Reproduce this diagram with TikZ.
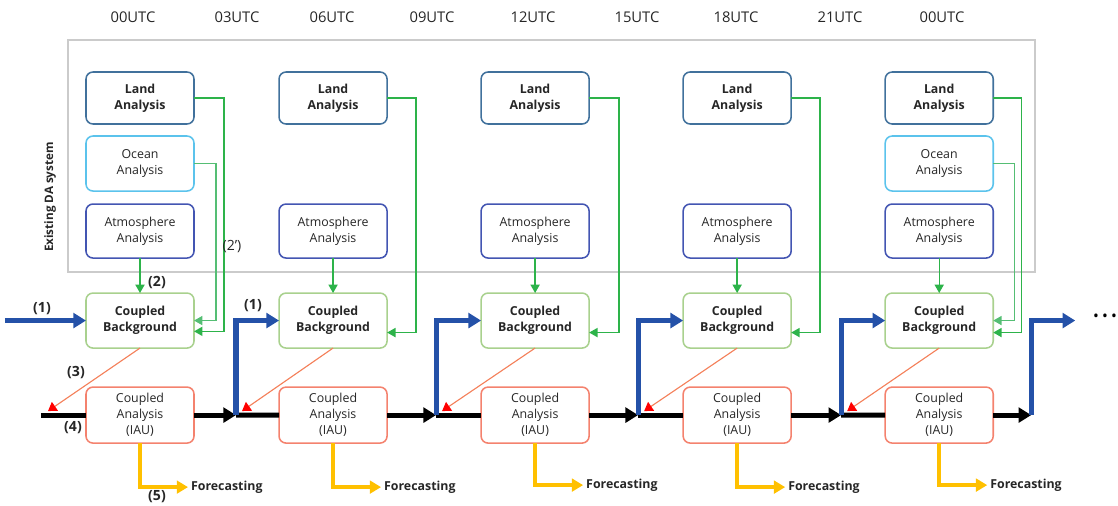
\documentclass[tikz,border=0pt]{standalone}
\usepackage{fontspec}
\setmainfont{Open Sans}
\usepackage{xcolor}
\usepackage{tikz}
\usetikzlibrary{positioning, arrows.meta, calc}
\definecolor{landblue}{HTML}{41719C}
\definecolor{oceanblue}{HTML}{5BC3EC}
\definecolor{atmblue}{HTML}{4355B2}
\definecolor{bggreen}{HTML}{A9D18E}
\definecolor{anasalmon}{HTML}{F4826E}
\definecolor{dagreen}{HTML}{2DB34A}
\definecolor{oceangreen}{HTML}{55BE74}
\definecolor{cycleblue}{HTML}{2451A8}
\definecolor{bgorange}{HTML}{F4805A}
\definecolor{fcyellow}{HTML}{FFC000}
\definecolor{dagray}{HTML}{CBCBCB}

\begin{document}
\begin{tikzpicture}[
  x=0.025cm, y=-0.025cm,
  node distance=0.3cm,
  box/.style={
    rectangle, rounded corners=5pt, line width=1.1pt, outer sep=0pt,
    minimum width=2.7cm, inner sep=1pt, align=center,
    font=\fontsize{8.8}{11.5}\selectfont, text=black!85
  },
  land/.style={box, draw=landblue, minimum height=1.3cm,
    font=\fontsize{8.8}{11.5}\selectfont\bfseries},
  ocean/.style={box, draw=oceanblue, minimum height=1.375cm},
  atmos/.style={box, draw=atmblue, minimum height=1.35cm},
  cbg/.style={box, draw=bggreen, minimum height=1.375cm,
    font=\fontsize{8.8}{11.5}\selectfont\bfseries},
  cana/.style={box, draw=anasalmon, minimum height=1.4cm},
  dabox/.style={rectangle, draw=dagray, line width=1.2pt,
    minimum width=24.175cm, minimum height=5.8cm},
  utc/.style={font=\fontsize{10.5}{12}\selectfont, text=black!85},
  lbl/.style={font=\fontsize{10}{12}\selectfont\bfseries, text=black!85},
  fcst/.style={anchor=west, inner sep=2pt,
    font=\fontsize{8.8}{11}\selectfont\bfseries, text=black!85},
  garr/.style={draw=dagreen, line width=1pt, -{Triangle[length=6pt,width=6.5pt]}},
  oarr/.style={draw=oceangreen, line width=1pt, -{Triangle[length=6pt,width=6.5pt]}},
  barr/.style={draw=cycleblue, line width=3.6pt, -{Triangle[length=9pt,width=10.5pt]}},
  kline/.style={draw=black, line width=3.6pt},
  karr/.style={kline, -{Triangle[length=9pt,width=10.5pt]}},
  rarr/.style={draw=bgorange, line width=0.8pt, -{Triangle[length=6pt,width=7.5pt,red]}},
  yarr/.style={draw=fcyellow, line width=2.8pt, -{Triangle[length=8pt,width=9pt]}},
]
\path[use as bounding box] (0,0) rectangle (1118,506);

% time axis
\node[utc] (t00) at (133,17) {00UTC};
\node[utc] (t03) at (237,17) {03UTC};
\node[utc] (t06) at (332,17) {06UTC};
\node[utc] (t09) at (432,17) {09UTC};
\node[utc] (t12) at (533,17) {12UTC};
\node[utc] (t15) at (637,17) {15UTC};
\node[utc] (t18) at (736,17) {18UTC};
\node[utc] (t21) at (840,17) {21UTC};
\node[utc] (t24) at (942,17) {00UTC};

% existing DA system
\node[dabox] (da) at (551.5,156) {};
\node[utc, rotate=90, font=\fontsize{8.3}{10}\selectfont\bfseries] (dalab) at (50,197) {Existing DA system};

% column 1
\node[land] (land1) at (140,98) {Land\\Analysis};
\node[ocean, below=0.3cm of land1] (ocean1) {Ocean\\Analysis};
\node[atmos, below=0.325cm of ocean1] (atm1) {Atmosphere\\Analysis};
\node[cbg, below=0.875cm of atm1] (cbg1) {Coupled\\Background};
\node[cana, below=0.975cm of cbg1] (cana1) {Coupled\\Analysis\\(IAU)};

% column 2
\node[land, right=2.125cm of land1] (land2) {Land\\Analysis};
\node[atmos, below=2cm of land2] (atm2) {Atmosphere\\Analysis};
\node[cbg, below=0.875cm of atm2] (cbg2) {Coupled\\Background};
\node[cana, below=0.975cm of cbg2] (cana2) {Coupled\\Analysis\\(IAU)};

% column 3
\node[land, right=2.35cm of land2] (land3) {Land\\Analysis};
\node[atmos, below=2cm of land3] (atm3) {Atmosphere\\Analysis};
\node[cbg, below=0.875cm of atm3] (cbg3) {Coupled\\Background};
\node[cana, below=0.975cm of cbg3] (cana3) {Coupled\\Analysis\\(IAU)};

% column 4
\node[land, right=2.35cm of land3] (land4) {Land\\Analysis};
\node[atmos, below=2cm of land4] (atm4) {Atmosphere\\Analysis};
\node[cbg, below=0.875cm of atm4] (cbg4) {Coupled\\Background};
\node[cana, below=0.975cm of cbg4] (cana4) {Coupled\\Analysis\\(IAU)};

% column 5
\node[land, right=2.35cm of land4] (land5) {Land\\Analysis};
\node[ocean, below=0.3cm of land5] (ocean5) {Ocean\\Analysis};
\node[atmos, below=0.325cm of ocean5] (atm5) {Atmosphere\\Analysis};
\node[cbg, below=0.875cm of atm5] (cbg5) {Coupled\\Background};
\node[cana, below=0.975cm of cbg5] (cana5) {Coupled\\Analysis\\(IAU)};

% forecasts
\node[fcst] (fc1) at ([xshift=1.2cm, yshift=-1.1cm]cana1.south) {Forecasting};
\node[fcst] (fc2) at ([xshift=1.2cm, yshift=-1.1cm]cana2.south) {Forecasting};
\node[fcst] (fc3) at ([xshift=1.2cm, yshift=-1.05cm]cana3.south) {Forecasting};
\node[fcst] (fc4) at ([xshift=1.2cm, yshift=-1.1cm]cana4.south) {Forecasting};
\node[fcst] (fc5) at ([xshift=1.2cm, yshift=-1.05cm]cana5.south) {Forecasting};

% cycle points
\coordinate[left=2.025cm of cbg1.west] (in1);
\coordinate[left=1.125cm of cana1.west] (lstart);
\coordinate[right=1.05cm of cana1.east] (j2);
\coordinate[right=1.225cm of cana2.east] (j3);
\coordinate[right=1.225cm of cana3.east] (j4);
\coordinate[right=1.25cm of cana4.east] (j5);
\coordinate[right=0.95cm of cana5.east] (j6);
\coordinate (out) at ($(j6 |- cbg5.west)+(1.1cm,0)$);
\node[inner sep=0pt, font=\fontsize{11}{11}\selectfont] (more) at (1105,318) {•\kern2.2pt•\kern2.2pt•};

% analysis -> background (green)
\draw[garr] (land1.east) -- ++(30,0) |- ([yshift=-0.27cm]cbg1.east);
\draw[oarr] (ocean1.east) -- ++(22,0) |- (cbg1.east);
\draw[garr] (atm1) -- (cbg1);
\draw[garr] (land2.east) -- ++(29,0) |- ([yshift=-0.3cm]cbg2.east);
\draw[garr] (atm2) -- (cbg2);
\draw[garr] (land3.east) -- ++(30,0) |- ([yshift=-0.3cm]cbg3.east);
\draw[garr] (atm3) -- (cbg3);
\draw[garr] (land4.east) -- ++(29,0) |- ([yshift=-0.3cm]cbg4.east);
\draw[garr] (atm4) -- (cbg4);
\draw[garr] (land5.east) -- ++(28,0) |- ([yshift=-0.3cm]cbg5.east);
\draw[oarr] (ocean5.east) -- ++(21,0) |- (cbg5.east);
\draw[garr] (atm5) -- (cbg5);

% model run (black)
\draw[kline] (lstart) -- (cana1.west);
\draw[karr] (cana1.east) -- (j2);
\draw[kline] (j2) -- (cana2.west);
\draw[karr] (cana2.east) -- (j3);
\draw[kline] (j3) -- (cana3.west);
\draw[karr] (cana3.east) -- (j4);
\draw[kline] (j4) -- (cana4.west);
\draw[karr] (cana4.east) -- (j5);
\draw[kline] (j5) -- (cana5.west);
\draw[karr] (cana5.east) -- (j6);

% first guess (blue)
\draw[barr] (in1) -- (cbg1.west);
\draw[barr] (j2) |- (cbg2.west);
\draw[barr] (j3) |- (cbg3.west);
\draw[barr] (j4) |- (cbg4.west);
\draw[barr] (j5) |- (cbg5.west);
\draw[barr] (j6) |- (out);

% background -> start of window (red)
\draw[rarr] (cbg1.south) -- ([xshift=0.175cm, yshift=0.1cm]lstart);
\draw[rarr] (cbg2.south) -- ([xshift=0.15cm, yshift=0.1cm]j2);
\draw[rarr] (cbg3.south) -- ([xshift=0.15cm, yshift=0.1cm]j3);
\draw[rarr] (cbg4.south) -- ([xshift=0.15cm, yshift=0.1cm]j4);
\draw[rarr] (cbg5.south) -- ([xshift=0.15cm, yshift=0.1cm]j5);

% forecasts (yellow)
\draw[yarr] (cana1.south) |- (fc1.west);
\draw[yarr] (cana2.south) |- (fc2.west);
\draw[yarr] (cana3.south) |- (fc3.west);
\draw[yarr] (cana4.south) |- (fc4.west);
\draw[yarr] (cana5.south) |- (fc5.west);

% step labels
\node[lbl] (s1) at (42,309) {(1)};
\node[lbl] (s1b) at (253,306) {(1)};
\node[lbl] (s2) at (157,283) {(2)};
\node[utc, font=\fontsize{10}{12}\selectfont] (s2p) at (232,247) {(2')};
\node[lbl] (s3) at (76,373) {(3)};
\node[lbl] (s4) at (73,428) {(4)};
\node[lbl] (s5) at (157,497) {(5)};

\end{tikzpicture}
\end{document}
